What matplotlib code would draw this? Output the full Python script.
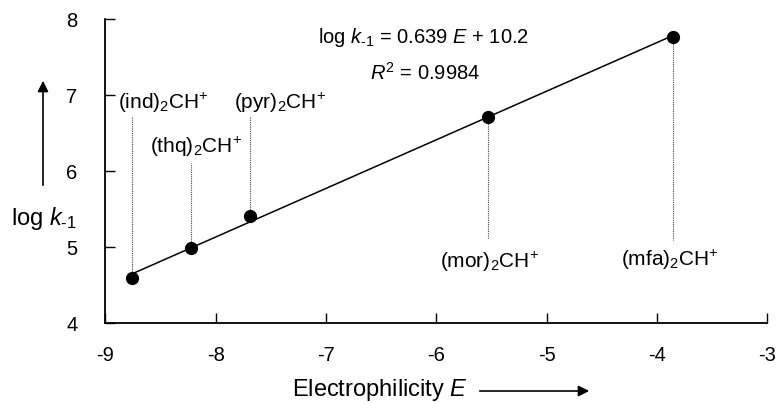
import numpy as np
import matplotlib
matplotlib.use("Agg")
import matplotlib.pyplot as plt

plt.rcParams['font.family'] = ['Liberation Sans', 'DejaVu Sans']
plt.rcParams['mathtext.fontset'] = 'custom'
plt.rcParams['mathtext.rm'] = 'Liberation Sans'
plt.rcParams['mathtext.it'] = 'Liberation Sans:italic'
plt.rcParams['mathtext.bf'] = 'Liberation Sans:bold'

# Data
compounds = ["ind", "thq", "pyr", "mor", "mfa"]
E_values = [-8.76, -8.22, -7.69, -5.53, -3.85]
logk_values = [4.59, 4.99, 5.41, 6.72, 7.77]
fit_slope = 0.639
fit_intercept = 10.2
r_squared = 0.9984
x_ticks = [-9, -8, -7, -6, -5, -4, -3]
y_ticks = [4, 5, 6, 7, 8]

# Layout (label anchor positions and dotted leader ends, data coords)
label_pos = [(-8.888, 6.90), (-8.594, 6.32), (-7.834, 6.90), (-5.966, 4.81), (-4.326, 4.83)]
leader_end = [6.73, 6.11, 6.73, 5.11, 5.10]

fig = plt.figure(figsize=(7.78, 4.03), dpi=100)
ax = fig.add_axes([0.1353, 0.1978, 0.9862 - 0.1353, 0.9521 - 0.1978])

E = np.array(E_values)
L = np.array(logk_values)
xs = np.array([E.min(), E.max()])
coef = np.polyfit(E, L, 1)
ax.plot(xs, np.polyval(coef, xs), color='black', lw=1.1, zorder=2)

for xi, yi, ye in zip(E, L, leader_end):
    ax.plot([xi, xi], [yi, ye], color='#444444', lw=0.8, ls=(0, (1, 1)), zorder=1)

ax.plot(E, L, 'o', color='black', ms=8.5, zorder=3)

for name, (lx, ly) in zip(compounds, label_pos):
    ax.text(lx, ly, "(" + name + ")$_{2}$CH$^{+}$", fontsize=15, ha='left', va='center')

ax.text(-6.116, 7.76, "log $k_{\\text{-1}}$ = %.3f $E$ + %.1f" % (fit_slope, fit_intercept),
        fontsize=14.5, ha='center', va='center')
ax.text(-6.103, 7.30, "$R^{2}$ = %.4f" % r_squared, fontsize=14.5, ha='center', va='center')

ax.set_xlim(-9, -3)
ax.set_ylim(4, 8)
ax.set_xticks(x_ticks)
ax.set_yticks(y_ticks)
ax.set_xticklabels([str(t) for t in x_ticks])
ax.set_yticklabels([str(t) for t in y_ticks])
ax.tick_params(direction='in', length=7, width=1.0, labelsize=14.5, pad=16)
ax.tick_params(axis='y', pad=20)
for s in ['top', 'right']:
    ax.spines[s].set_visible(False)
for s in ['left', 'bottom']:
    ax.spines[s].set_linewidth(1.3)

# axis labels with arrows (figure coordinates)
fig.text(291.7 / 778, 1 - 390 / 403, "Electrophilicity $E$", fontsize=17, ha='left', va='center')
fig.text(44 / 778, 1 - 218 / 403, "log $k_{\\text{-1}}$", fontsize=17, ha='center', va='center')
ax.annotate("", xy=(592 / 778, 1 - 391 / 403), xytext=(477 / 778, 1 - 391 / 403),
            xycoords='figure fraction', textcoords='figure fraction',
            arrowprops=dict(arrowstyle='-|>', color='black', lw=1.2, mutation_scale=16))
ax.annotate("", xy=(43 / 778, 1 - 78 / 403), xytext=(43 / 778, 1 - 188 / 403),
            xycoords='figure fraction', textcoords='figure fraction',
            arrowprops=dict(arrowstyle='-|>', color='black', lw=1.2, mutation_scale=16))

fig.savefig("out.png", dpi=100)
